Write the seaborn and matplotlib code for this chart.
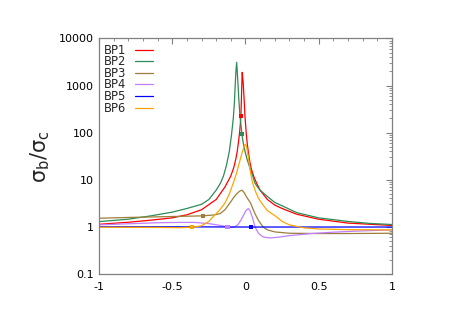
import numpy as np
import pandas as pd
import matplotlib
matplotlib.use("Agg")
import matplotlib.pyplot as plt
import matplotlib.ticker as mticker
import seaborn as sns

# ── data ───────────────────────────────────────────────────────────────────
bp1_x = [-1, -0.8, -0.65, -0.5, -0.4, -0.3, -0.2, -0.14, -0.1, -0.08, -0.065, -0.056, -0.047,
         -0.04, -0.035, -0.031, -0.028, -0.025, -0.022, -0.018, -0.015, -0.011, -0.008,
         -0.003, 0.005, 0.012, 0.019, 0.03, 0.04, 0.06, 0.076, 0.1, 0.15, 0.2, 0.25, 0.35,
         0.5, 0.7, 1.0]
bp1_y = [1.13, 1.25, 1.38, 1.55, 1.8, 2.3, 3.8, 7, 12, 18, 28, 40, 65,
         100, 150, 228, 450, 1000, 1900, 1400, 1100, 650, 450,
         220, 100, 60, 40, 24, 17, 11, 8.5, 6, 3.8, 2.9, 2.45, 1.85,
         1.45, 1.2, 1.07]

bp2_x = [-1, -0.8, -0.65, -0.5, -0.4, -0.3, -0.25, -0.2, -0.17, -0.15, -0.13, -0.11, -0.095,
         -0.083, -0.075, -0.07, -0.065, -0.06, -0.056, -0.051, -0.045, -0.037, -0.03, -0.024,
         -0.015, -0.003, 0.01, 0.03, 0.05, 0.065, 0.08, 0.1, 0.15, 0.2, 0.25, 0.35, 0.5,
         0.7, 0.85, 1.0]
bp2_y = [1.29, 1.45, 1.7, 2.05, 2.45, 3.0, 3.8, 6.0, 8.5, 12, 20, 40, 90,
         200, 450, 1000, 2000, 3100, 2000, 1100, 500, 220, 140, 93,
         60, 40, 28, 18, 12, 8.5, 7.2, 6.0, 4.4, 3.3, 2.8, 2.0, 1.55,
         1.3, 1.18, 1.12]

bp3_x = [-1, -0.8, -0.6, -0.4, -0.29, -0.22, -0.174, -0.14, -0.106, -0.08, -0.06, -0.04,
         -0.024, -0.01, 0.01, 0.035, 0.065, 0.09, 0.12, 0.15, 0.2, 0.3, 0.5, 0.7, 1.0]
bp3_y = [1.52, 1.58, 1.63, 1.68, 1.71, 1.78, 1.9, 2.3, 3.2, 4.2, 5.0, 5.7,
         6.0, 5.4, 4.2, 3.2, 1.9, 1.35, 1.0, 0.86, 0.78, 0.73, 0.72, 0.72, 0.73]

bp4_x = [-1, -0.8, -0.6, -0.45, -0.35, -0.25, -0.18, -0.122, -0.09, -0.072, -0.05, -0.03,
         -0.01, 0.005, 0.019, 0.03, 0.05, 0.065, 0.09, 0.12, 0.167, 0.22, 0.3, 0.45, 0.6,
         0.8, 1.0]
bp4_y = [1.1, 1.16, 1.22, 1.24, 1.24, 1.17, 1.08, 1.0, 0.97, 1.0, 1.12, 1.4,
         1.85, 2.25, 2.44, 2.25, 1.5, 1.0, 0.72, 0.61, 0.58, 0.6, 0.65, 0.72, 0.77,
         0.82, 0.86]

bp5_x = [-1, -0.5, 0.0, 0.5, 1.0]
bp5_y = [1.0, 1.0, 0.99, 0.99, 0.99]

bp6_x = [-1, -0.6, -0.45, -0.363, -0.3, -0.25, -0.22, -0.18, -0.14, -0.11, -0.083, -0.06,
         -0.04, -0.02, -0.008, 0.0, 0.008, 0.02, 0.035, 0.049, 0.07, 0.09, 0.11, 0.15, 0.21,
         0.25, 0.3, 0.4, 0.5, 0.7, 1.0]
bp6_y = [0.98, 0.97, 0.96, 0.98, 1.05, 1.3, 1.65, 2.2, 3.2, 5.0, 8.5, 14,
         24, 40, 52, 57, 50, 30, 14, 8.5, 5.5, 4.0, 3.2, 2.2, 1.65,
         1.3, 1.1, 0.95, 0.9, 0.87, 0.86]

# one marker point on each curve
mark_x = [-0.031, -0.024, -0.29, -0.122, 0.037, -0.363]
mark_y = [228, 93, 1.71, 1.0, 1.0, 0.98]

labels = ["BP1", "BP2", "BP3", "BP4", "BP5", "BP6"]
colors = ["#ff0000", "#2e8b57", "#9c7e3a", "#c080ff", "#0000ff", "#ffa500"]
series_x = [bp1_x, bp2_x, bp3_x, bp4_x, bp5_x, bp6_x]
series_y = [bp1_y, bp2_y, bp3_y, bp4_y, bp5_y, bp6_y]

# ── plot ───────────────────────────────────────────────────────────────────
sns.set_style("white")
plt.rcParams['font.family'] = ['DejaVu Sans']

fig = plt.figure(figsize=(4.52, 3.2), dpi=100)
ax = fig.add_axes([0.219, 0.144, 0.648, 0.736])

for lab, col, xs, ys in zip(labels, colors, series_x, series_y):
    df = pd.DataFrame({"x": xs, "y": ys})
    sns.lineplot(data=df, x="x", y="y", color=col, lw=0.9, label=lab, ax=ax,
                 estimator=None, sort=False)

marks = pd.DataFrame({"x": mark_x, "y": mark_y, "c": labels})
sns.scatterplot(data=marks, x="x", y="y", hue="c", palette=colors, marker="s",
                s=9, linewidth=0, legend=False, ax=ax, zorder=5)

ax.set_yscale("log")
ax.set_xlim(-1, 1)
ax.set_ylim(0.1, 10000)
ax.set_xticks([-1, -0.5, 0, 0.5, 1])
ax.set_xticklabels(["-1", "-0.5", "0", "0.5", "1"])
ax.xaxis.set_minor_locator(mticker.MultipleLocator(0.1))
ax.set_yticks([0.1, 1, 10, 100, 1000, 10000])
ax.set_yticklabels(["0.1", "1", "10", "100", "1000", "10000"])
ax.yaxis.set_minor_locator(mticker.LogLocator(base=10, subs=np.arange(2, 10), numticks=20))
ax.yaxis.set_minor_formatter(mticker.NullFormatter())

ax.tick_params(which="both", direction="in", top=True, right=True, colors="#808080",
               labelcolor="black", labelsize=8)
ax.tick_params(which="major", length=4, width=0.8)
ax.tick_params(which="minor", length=2, width=0.6)
ax.tick_params(axis="x", pad=6)
for sp in ax.spines.values():
    sp.set_color("#808080")
    sp.set_linewidth(0.9)

ax.set_xlabel("")
ax.set_ylabel(r"σ$_\mathregular{b}$/σ$_\mathregular{c}$", fontsize=15, labelpad=5)

leg = ax.legend(loc="upper left", frameon=False, markerfirst=False, fontsize=8.3,
                handlelength=1.6, handletextpad=0.7, labelspacing=-0.12,
                borderaxespad=0.2, borderpad=0.25)

plt.savefig("out.png", dpi=100)
plt.close()
